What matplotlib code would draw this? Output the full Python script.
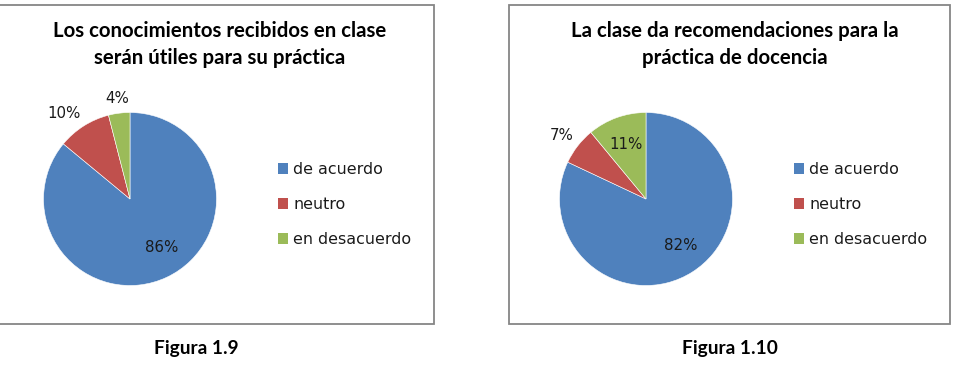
import matplotlib
matplotlib.use("Agg")
import matplotlib.pyplot as plt
from matplotlib.patches import Rectangle, Patch
import numpy as np

W, H = 960, 366

categories = ["de acuerdo", "neutro", "en desacuerdo"]
colors = ["#4F81BD", "#C0504D", "#9BBB59"]

titles = [["Los conocimientos recibidos en clase", "serán útiles para su práctica"],
          ["La clase da recomendaciones para la", "práctica de docencia"]]
captions = ["Figura 1.9", "Figura 1.10"]
values_1 = [86, 10, 4]
values_2 = [82, 7, 11]
series = [values_1, values_2]

# label placement (fraction of radius, angle shift in degrees)
label_dist = [[0.67, 1.25, 1.17], [0.67, 1.22, 0.67]]
label_shift = [[8, 5, 0], [5, 1, 0]]

fig = plt.figure(figsize=(W / 100, H / 100), dpi=100)
fig.patch.set_facecolor("white")

def fx(px):
    return px / W

def fy(py):
    return 1 - py / H

panels = [(-2, 4.5, 434, 323.5), (509, 4.5, 950, 323.5)]
pie_centers = [(130, 199), (646, 199)]
radius = 86.5
title_cx = [220, 735]
caption_cx = [196, 730]
legend_x = [278, 794]

for i in range(2):
    l, t, r, b = panels[i]
    fig.patches.append(Rectangle((fx(l), fy(b)), fx(r - l), (b - t) / H,
                                 transform=fig.transFigure, fill=False,
                                 edgecolor="#868686", linewidth=1.3))
    cx, cy = pie_centers[i]
    ax = fig.add_axes([fx(cx - radius), fy(cy + radius), fx(2 * radius), 2 * radius / H])
    vals = series[i]
    wedges, _ = ax.pie(vals, colors=colors, startangle=90, counterclock=False,
                       radius=1, wedgeprops=dict(edgecolor="white", linewidth=0.4))
    ax.set_xlim(-1, 1)
    ax.set_ylim(-1, 1)
    ax.set_aspect("auto")
    ax.axis("off")
    for j, w in enumerate(wedges):
        ang = np.deg2rad((w.theta1 + w.theta2) / 2 + label_shift[i][j])
        d = label_dist[i][j]
        ax.text(d * np.cos(ang), d * np.sin(ang), f"{vals[j]}%", ha="center", va="center",
                fontsize=10.8, family="DejaVu Sans", color="#1a1a1a", clip_on=False)
    for k, line in enumerate(titles[i]):
        fig.text(fx(title_cx[i]), fy(29 + 27 * k), line, ha="center", va="center_baseline",
                 fontsize=14.7, fontweight="bold", family="Lato", color="#000000")
    fig.text(fx(caption_cx[i]), fy(347), captions[i], ha="center", va="center_baseline",
             fontsize=13.8, fontweight="bold", family="Lato", color="#000000")
    handles = [Patch(facecolor=c, edgecolor="none") for c in colors]
    fig.legend(handles, categories, loc="center left",
               bbox_to_anchor=(fx(legend_x[i]), fy(204.5)), frameon=False,
               prop=dict(family="DejaVu Sans", size=11.4),
               handlelength=0.65, handleheight=0.65, handletextpad=0.3,
               labelspacing=1.25, borderpad=0, borderaxespad=0,
               labelcolor="#1a1a1a")

fig.savefig("out.png", dpi=100, facecolor="white")
